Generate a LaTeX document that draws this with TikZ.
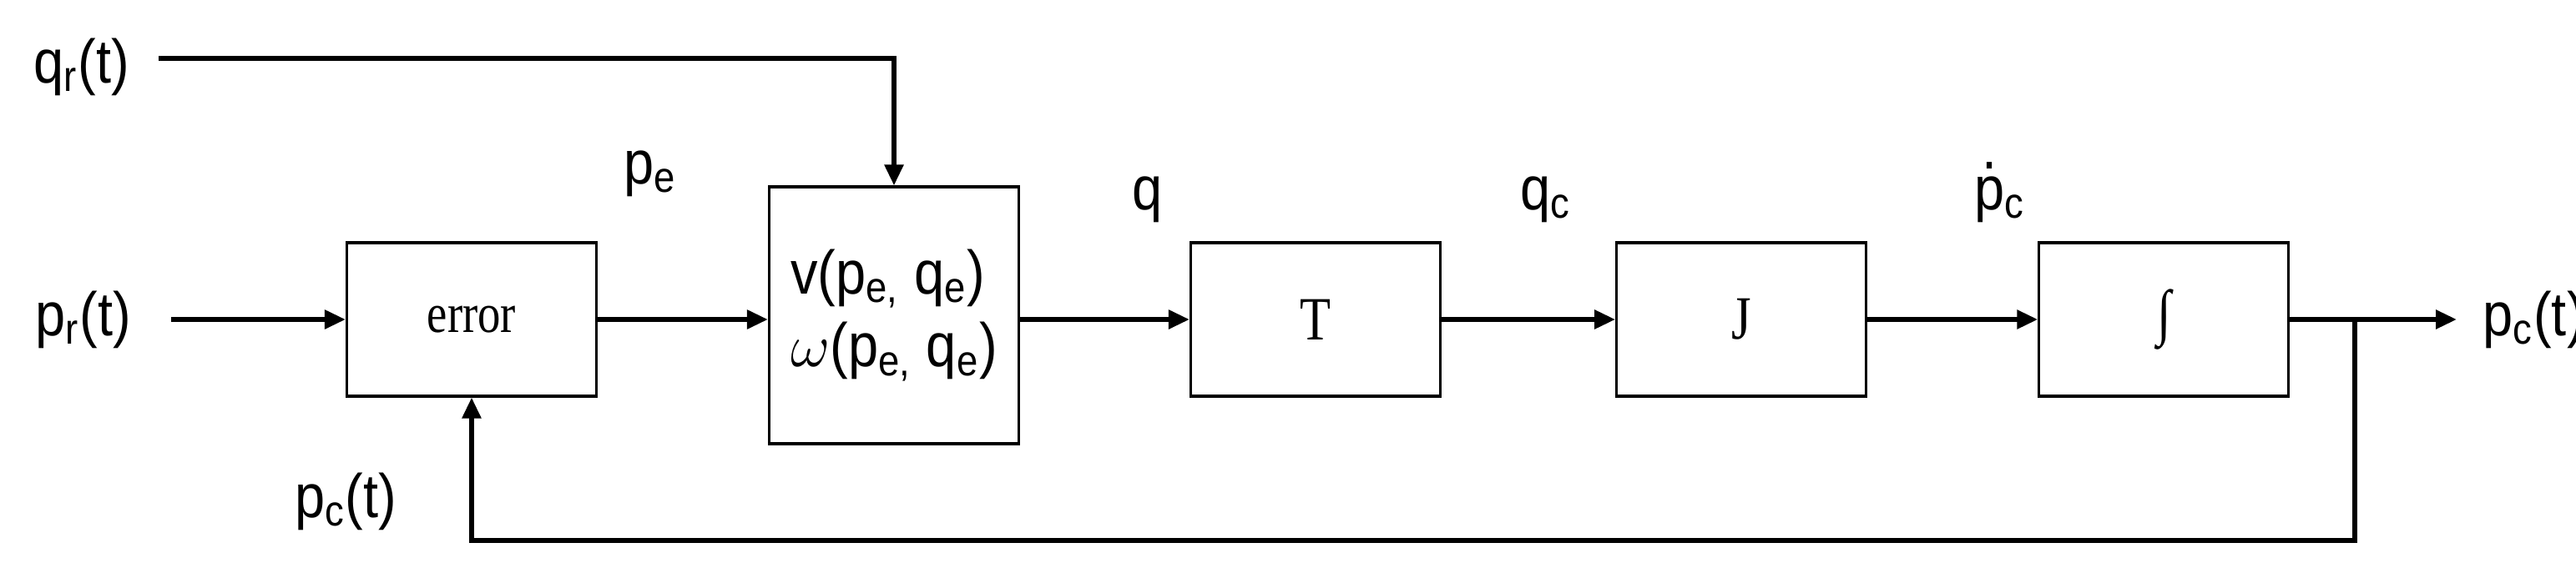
\documentclass[tikz,border=0pt]{standalone}
\usepackage{fontspec}
\setmainfont[FakeStretch=0.88]{Liberation Sans}
\newfontfamily\blkfont[FakeStretch=0.82]{Liberation Serif}
\usetikzlibrary{positioning,arrows.meta}
\newcommand{\pdot}{\ooalign{p\cr\hidewidth\raisebox{0.66em}{.}\hidewidth\cr}}
\tikzset{blk/.style={draw,line width=0.9pt,minimum width=2.99cm,minimum height=1.84cm,
   inner sep=0pt,font=\blkfont\fontsize{21}{25}\selectfont},
 flow/.style={line width=1.6pt,-{Triangle[length=2.5mm,width=2.2mm]}},
 lbl/.style={anchor=base,inner sep=0pt,font=\fontsize{21}{25}\selectfont},
 }

\begin{document}
\begin{tikzpicture}
    \useasboundingbox (0,0) rectangle (30.86,6.80);
    \node[blk,font=\blkfont\fontsize{19}{23}\selectfont] (err) at (5.65,2.97) {error};
    \node[blk,minimum height=3.08cm,align=left,font=\fontsize{21}{25}\selectfont] (ctl) at (10.71,3.02)
        {v(p\textsubscript{e,} q\textsubscript{e})\\$\omega$(p\textsubscript{e,} q\textsubscript{e})};
    \node[blk] (T) at (15.76,2.97) {T};
    \node[blk,right=2.08cm of T] (J) {J};
    \node[blk,right=2.04cm of J] (Int) {∫};
    \coordinate (qrs) at (1.90,6.10);
    \coordinate (prs) at (2.05,2.97);
    \coordinate (out) at (29.43,2.97);
    \coordinate (br) at (28.21,2.97);
    \coordinate (fb) at (5.65,0.32);
    \node[lbl] (qr) at (0.98,5.81) {q\textsubscript{r}(t)};
    \node[lbl] (pr) at (1.00,2.78) {p\textsubscript{r}(t)};
    \node[lbl] (pe) at (7.79,4.60) {p\textsubscript{e}};
    \node[lbl] (q) at (13.75,4.29) {q};
    \node[lbl] (qc) at (18.52,4.29) {q\textsubscript{c}};
    \node[lbl] (pcd) at (23.96,4.29) {\pdot\textsubscript{c}};
    \node[lbl] (pcb) at (4.14,0.60) {p\textsubscript{c}(t)};
    \node[lbl,anchor=base west] (pco) at (29.74,2.78) {p\textsubscript{c}(t)};
    \draw[flow] (qrs) -| (ctl);
    \draw[flow] (prs) -- (err);
    \draw[flow] (err) -- (err -| ctl.west);
    \draw[flow] (ctl.east |- T) -- (T);
    \draw[flow] (T) -- (J);
    \draw[flow] (J) -- (Int);
    \draw[flow] (Int) -- (out);
    \draw[flow] (br) |- (fb) -- (err);
\end{tikzpicture}
\end{document}
